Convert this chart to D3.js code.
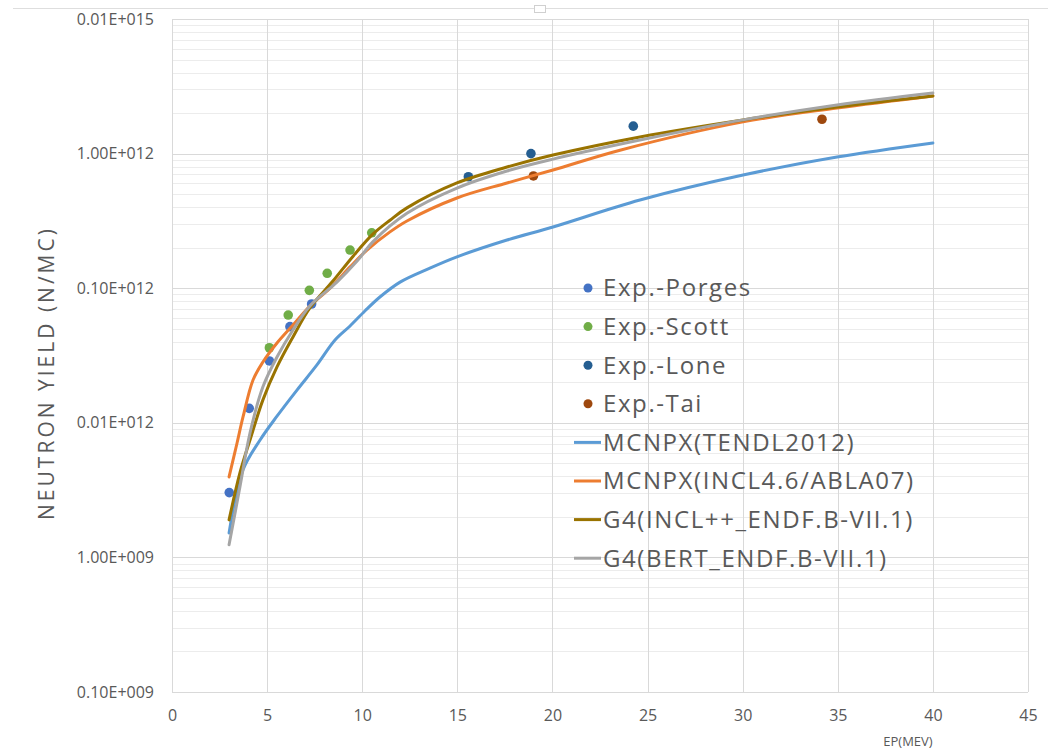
<!DOCTYPE html>
<html>
<head>
<meta charset="utf-8">
<script src="https://cdn.jsdelivr.net/npm/d3@7"></script>
<style>
  body { margin: 0; background: #fff; }
  svg text { font-family: "Open Sans", sans-serif; fill: #595959; }
</style>
</head>
<body>
<div id="chart"></div>
<script>
// tick labels (Excel style) at each decade
var yTickValues = [1e8, 1e9, 1e10, 1e11, 1e12, 1e13];
var yTickLabels = ["0.10E+009", "1.00E+009", "0.01E+012", "0.10E+012", "1.00E+012", "0.01E+015"];
var xTickValues = [0, 5, 10, 15, 20, 25, 30, 35, 40, 45];

// experimental points [E (MeV), yield]
var porges = [[3.01, 3.03e9], [4.06, 1.28e10], [5.12, 2.88e10], [6.2, 5.18e10], [7.34, 7.63e10]];
var scott = [[5.12, 3.61e10], [6.11, 6.32e10], [7.22, 9.64e10], [8.16, 1.29e11], [9.36, 1.92e11], [10.5, 2.58e11]];
var lone = [[15.58, 6.73e11], [18.87, 1.0e12], [24.25, 1.6e12]];
var tai = [[19.0, 6.82e11], [34.17, 1.8e12]];

// simulations
var tendl = [[3.0, 1.52e9], [3.73, 4.46e9], [4.63, 7.45e9], [5.52, 1.12e10], [6.57, 1.75e10], [7.62, 2.69e10],
  [8.57, 4.12e10], [9.36, 5.24e10], [10.14, 6.77e10], [10.93, 8.6e10], [11.99, 1.11e11], [13.56, 1.41e11],
  [14.98, 1.71e11], [17.61, 2.28e11], [20.03, 2.85e11], [24.6, 4.52e11], [30.02, 6.93e11], [34.96, 9.43e11], [40.0, 1.2e12]];
var incl46 = [[3.0, 3.96e9], [3.42, 7.08e9], [3.73, 1.1e10], [4.26, 2.08e10], [4.78, 2.83e10], [5.52, 3.92e10],
  [6.36, 5.33e10], [7.25, 7.38e10], [8.31, 1.0e11], [9.36, 1.44e11], [10.25, 1.92e11], [11.46, 2.62e11],
  [12.35, 3.16e11], [14.98, 4.68e11], [17.61, 6.05e11], [20.03, 7.55e11], [23.55, 1.06e12], [30.02, 1.72e12],
  [34.96, 2.18e12], [40.0, 2.68e12]];
var inclpp = [[3.0, 1.9e9], [3.57, 4.24e9], [4.1, 7.45e9], [4.78, 1.48e10], [5.52, 2.6e10], [6.36, 4.34e10],
  [7.25, 7.13e10], [8.46, 1.13e11], [9.52, 1.73e11], [10.57, 2.53e11], [11.46, 3.2e11], [12.35, 3.95e11],
  [14.98, 6.05e11], [17.61, 7.95e11], [20.03, 9.76e11], [24.6, 1.33e12], [30.02, 1.78e12], [34.96, 2.22e12], [40.0, 2.68e12]];
var bert = [[3.0, 1.24e9], [3.57, 3.33e9], [4.1, 8.4e9], [4.78, 1.85e10], [5.52, 3.08e10], [6.36, 4.89e10],
  [7.25, 7.38e10], [8.67, 1.11e11], [9.73, 1.59e11], [10.57, 2.22e11], [12.35, 3.6e11], [14.98, 5.55e11],
  [17.61, 7.43e11], [20.03, 9.1e11], [24.6, 1.26e12], [30.02, 1.78e12], [34.96, 2.3e12], [40.0, 2.82e12]];

var pointSeries = [
  {name: "Exp.-Porges", color: "#4472c4", data: porges},
  {name: "Exp.-Scott", color: "#70ad47", data: scott},
  {name: "Exp.-Lone", color: "#255e91", data: lone},
  {name: "Exp.-Tai", color: "#9e480e", data: tai}
];
var lineSeries = [
  {name: "MCNPX(TENDL2012)", color: "#5b9bd5", data: tendl},
  {name: "MCNPX(INCL4.6/ABLA07)", color: "#ed7d31", data: incl46},
  {name: "G4(INCL++_ENDF.B-VII.1)", color: "#997300", data: inclpp},
  {name: "G4(BERT_ENDF.B-VII.1)", color: "#a5a5a5", data: bert}
];

var W = 1048, H = 751;
var margin = {top: 19, left: 172, right: 20, bottom: 59};
var w = W - margin.left - margin.right, h = H - margin.top - margin.bottom;

var svg = d3.select("#chart").append("svg").attr("width", W).attr("height", H);

// outer chart border hint at top
svg.append("line").attr("x1", 13).attr("x2", W).attr("y1", 8.5).attr("y2", 8.5)
  .attr("stroke", "#dedede");
svg.append("rect").attr("x", 534.5).attr("y", 5.5).attr("width", 11).attr("height", 7)
  .attr("fill", "#fff").attr("stroke", "#d0d0d0");

var g = svg.append("g").attr("transform", "translate(" + margin.left + "," + margin.top + ")");

var x = d3.scaleLinear().domain([0, 45]).range([0, w]);
var y = d3.scaleLog().domain([1e8, 1e13]).range([h, 0]);

// minor grid
var minor = [];
for (var p = 8; p < 13; p++) {
  for (var m = 2; m <= 9; m++) minor.push(m * Math.pow(10, p));
}
g.append("g").selectAll("line").data(minor).join("line")
  .attr("x1", 0).attr("x2", w)
  .attr("y1", function(d) { return Math.round(y(d)) + 0.5; })
  .attr("y2", function(d) { return Math.round(y(d)) + 0.5; })
  .attr("stroke", "#ececec");

// major grid
g.append("g").selectAll("line").data(yTickValues).join("line")
  .attr("x1", 0).attr("x2", w)
  .attr("y1", function(d) { return Math.round(y(d)) + 0.5; })
  .attr("y2", function(d) { return Math.round(y(d)) + 0.5; })
  .attr("stroke", "#d9d9d9");
g.append("g").selectAll("line").data(xTickValues).join("line")
  .attr("y1", 0).attr("y2", h)
  .attr("x1", function(d) { return Math.round(x(d)) + 0.5; })
  .attr("x2", function(d) { return Math.round(x(d)) + 0.5; })
  .attr("stroke", "#d9d9d9");

// axes (labels only)
var yAxis = g.append("g").call(d3.axisLeft(y).tickValues(yTickValues)
  .tickFormat(function(d, i) { return yTickLabels[i]; }).tickSize(0).tickPadding(18));
yAxis.select(".domain").remove();
yAxis.selectAll("text").style("font-size", "16px").attr("fill", "#595959");

var xAxis = g.append("g").attr("transform", "translate(0," + h + ")")
  .call(d3.axisBottom(x).tickValues(xTickValues).tickSize(0).tickPadding(18));
xAxis.select(".domain").remove();
xAxis.selectAll("text").style("font-size", "16px").attr("fill", "#595959");

// points
pointSeries.forEach(function(s) {
  g.append("g").selectAll("circle").data(s.data).join("circle")
    .attr("cx", function(d) { return x(d[0]); })
    .attr("cy", function(d) { return y(d[1]); })
    .attr("r", 4.8)
    .attr("fill", s.color);
});

// lines
var line = d3.line()
  .x(function(d) { return x(d[0]); })
  .y(function(d) { return y(d[1]); })
  .curve(d3.curveCatmullRom.alpha(0.5));
lineSeries.forEach(function(s) {
  g.append("path").datum(s.data)
    .attr("d", line)
    .attr("fill", "none")
    .attr("stroke", s.color)
    .attr("stroke-width", 3)
    .attr("stroke-linecap", "round");
});

// axis titles
svg.append("text")
  .attr("transform", "translate(54,373) rotate(-90)")
  .attr("text-anchor", "middle")
  .style("font-size", "21px")
  .style("letter-spacing", "3px")
  .text("NEUTRON YIELD (N/MC)");
svg.append("text")
  .attr("x", 908).attr("y", 746)
  .attr("text-anchor", "middle")
  .style("font-size", "13px")
  .text("EP(MEV)");

// legend
var legend = svg.append("g").attr("transform", "translate(0,288)");
var entries = pointSeries.map(function(s) { return {name: s.name, color: s.color, type: "point"}; })
  .concat(lineSeries.map(function(s) { return {name: s.name, color: s.color, type: "line"}; }));
var item = legend.selectAll("g").data(entries).join("g")
  .attr("transform", function(d, i) { return "translate(0," + (i * 38.6) + ")"; });
item.filter(function(d) { return d.type === "point"; }).append("circle")
  .attr("cx", 588).attr("cy", 0).attr("r", 4.5)
  .attr("fill", function(d) { return d.color; });
item.filter(function(d) { return d.type === "line"; }).append("line")
  .attr("x1", 574).attr("x2", 601).attr("y1", 0).attr("y2", 0)
  .attr("stroke", function(d) { return d.color; }).attr("stroke-width", 3);
item.append("text")
  .attr("x", 603).attr("y", 0).attr("dy", "0.35em")
  .style("font-size", "24px")
  .style("letter-spacing", "1.6px")
  .text(function(d) { return d.name; });
</script>
</body>
</html>
